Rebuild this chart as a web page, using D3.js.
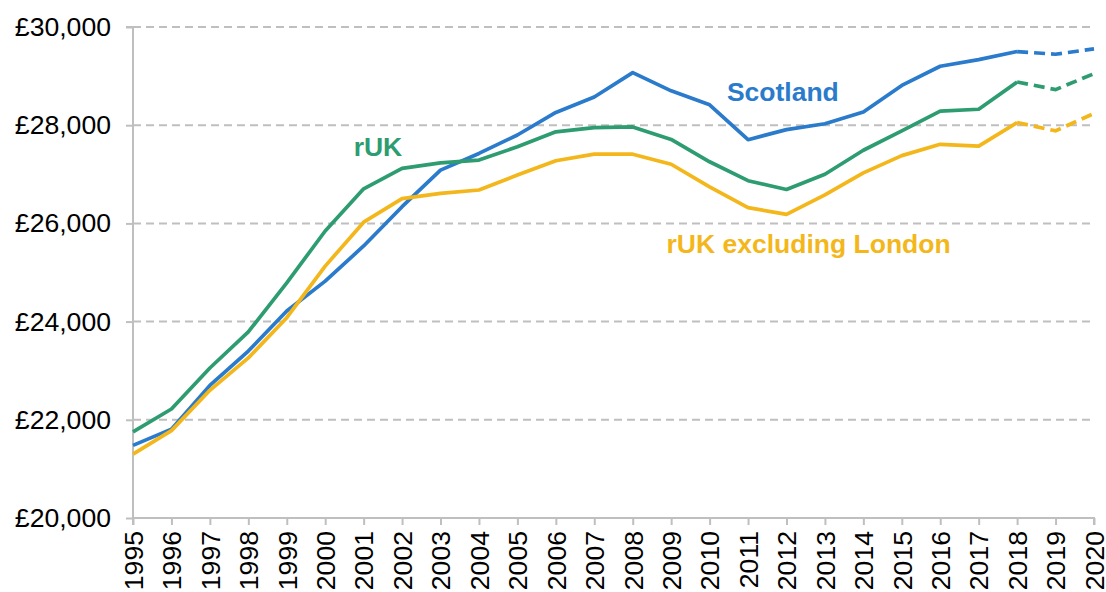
<!DOCTYPE html>
<html>
<head>
<meta charset="utf-8">
<script src="https://cdn.jsdelivr.net/npm/d3@7.9.0/dist/d3.min.js"></script>
<style>
  body { margin: 0; background: #fff; }
  svg text { font-family: "Liberation Sans", Arial, sans-serif; }
</style>
</head>
<body>
<svg id="chart" width="1106" height="592"></svg>
<script>
// data
const years = [1995, 1996, 1997, 1998, 1999, 2000, 2001, 2002, 2003, 2004, 2005, 2006, 2007,
               2008, 2009, 2010, 2011, 2012, 2013, 2014, 2015, 2016, 2017, 2018, 2019, 2020];
const scotland = [21480, 21810, 22700, 23400, 24215, 24825, 25540, 26340, 27085, 27425, 27800, 28260, 28575,
                  29070, 28700, 28415, 27705, 27910, 28030, 28270, 28810, 29200, 29335, 29500, 29445, 29555];
const ruk = [21755, 22220, 23055, 23790, 24790, 25845, 26705, 27120, 27232, 27290, 27560, 27865, 27950,
             27965, 27710, 27255, 26870, 26690, 27000, 27490, 27885, 28285, 28325, 28880, 28725, 29050];
const rukExLondon = [21300, 21780, 22600, 23260, 24080, 25130, 26025, 26505, 26610, 26680, 26985, 27275, 27410,
                     27410, 27205, 26745, 26320, 26185, 26580, 27030, 27380, 27610, 27575, 28055, 27885, 28240];
const projectedFrom = 2018; // dashed after this year
const yTicks = [20000, 22000, 24000, 26000, 28000, 30000];

const seriesNames = ['Scotland', 'rUK', 'rUK excluding London'];
const seriesValues = [scotland, ruk, rukExLondon];
const seriesColors = ['#2a7bcb', '#2e9c71', '#f3b71c'];
// label anchors in data units: [year, value]
const labelAnchors = [[2010.45, 28490], [2000.74, 27370], [2008.88, 25390]];

const svg = d3.select('#chart');
const margin = { left: 133, right: 12, top: 27, bottom: 74 };
const width = 1106, height = 592;

const x = d3.scaleLinear()
  .domain([years[0], years[years.length - 1]])
  .range([margin.left, width - margin.right]);
const y = d3.scaleLinear()
  .domain([20000, 30000])
  .range([height - margin.bottom, margin.top]);

// gridlines
svg.append('g')
  .selectAll('line')
  .data(yTicks.filter(d => d > 20000))
  .join('line')
  .attr('x1', margin.left)
  .attr('x2', width - margin.right)
  .attr('y1', d => y(d))
  .attr('y2', d => y(d))
  .attr('stroke', '#bfbfbf')
  .attr('stroke-width', 2)
  .attr('stroke-dasharray', '8,5');

// y axis
let yAxis = svg.append('g')
  .attr('transform', `translate(${margin.left},0)`)
  .call(d3.axisLeft(y).tickValues(yTicks).tickSize(7).tickPadding(15)
    .tickFormat(d => '£' + d3.format(',')(d)));
yAxis.selectAll('line, path').attr('stroke', '#bfbfbf').attr('stroke-width', 2);
yAxis.select('.domain').attr('d', `M-7,${y(30000)}H0V${y(20000)}`);
yAxis.selectAll('text').attr('font-size', 26.6).attr('fill', '#000')
  .style('font-family', '"Liberation Sans", Arial, sans-serif');

// x axis
let xAxis = svg.append('g')
  .attr('transform', `translate(0,${y(20000)})`)
  .call(d3.axisBottom(x).tickValues(years).tickSize(7).tickFormat(d3.format('d')));
xAxis.selectAll('line, path').attr('stroke', '#bfbfbf').attr('stroke-width', 2);
xAxis.select('.domain').attr('d', `M${margin.left},7V0H${width - margin.right}V7`);
xAxis.selectAll('text')
  .attr('font-size', 26.6)
  .attr('fill', '#000')
  .style('font-family', '"Liberation Sans", Arial, sans-serif')
  .attr('text-anchor', 'end')
  .attr('dy', '0.35em')
  .attr('transform', 'translate(0,5) rotate(-90)')
  .attr('x', -8)
  .attr('y', 0);

// lines
let line = d3.line()
  .x(d => x(d[0]))
  .y(d => y(d[1]));

seriesValues.forEach((vals, i) => {
  let pts = years.map((yr, j) => [yr, vals[j]]);
  svg.append('path')
    .attr('d', line(pts.filter(p => p[0] <= projectedFrom)))
    .attr('fill', 'none')
    .attr('stroke', seriesColors[i])
    .attr('stroke-width', 3.7)
    .attr('stroke-linejoin', 'round');
  svg.append('path')
    .attr('d', line(pts.filter(p => p[0] >= projectedFrom)))
    .attr('fill', 'none')
    .attr('stroke', seriesColors[i])
    .attr('stroke-width', 3.7)
    .attr('stroke-dasharray', '11,6');
});

// series labels
seriesNames.forEach((name, i) => {
  svg.append('text')
    .attr('x', x(labelAnchors[i][0]))
    .attr('y', y(labelAnchors[i][1]))
    .attr('fill', seriesColors[i])
    .attr('font-size', 26.5)
    .attr('font-weight', 'bold')
    .text(name);
});
</script>
</body>
</html>
